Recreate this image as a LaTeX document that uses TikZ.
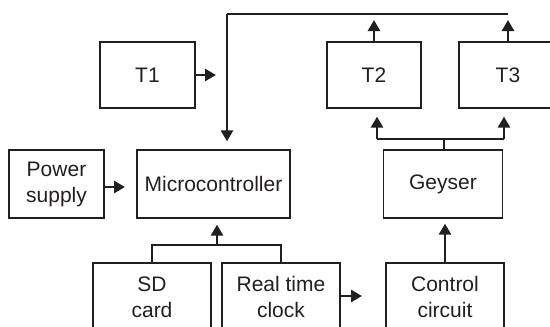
\documentclass[tikz,border=0pt]{standalone}
\usepackage{fontspec}
\setmainfont{Liberation Sans}
\usetikzlibrary{arrows.meta}
\definecolor{ink}{HTML}{231F20}
\begin{document}
\begin{tikzpicture}[x=1pt,y=-1pt,
  blk/.style={draw=ink,line width=1.3pt,rectangle,inner sep=0pt,align=center,
    font=\fontsize{21}{26}\selectfont,text=ink},
  conn/.style={draw=ink,line width=2.7pt},
  arr/.style={conn,-{Triangle[length=11pt,width=12pt]}}]
\useasboundingbox (0,0) rectangle (550,327);
\clip (0,0) rectangle (550,327);
\fill[white] (0,0) rectangle (550,327);
% blocks
\node[blk,minimum width=95pt,minimum height=66pt] (t1) at (147.5,75) {T1};
\node[blk,minimum width=94pt,minimum height=66pt] (t2) at (374,75) {T2};
\node[blk,minimum width=98pt,minimum height=66pt] (t3) at (508,75) {T3};
\node[blk,minimum width=95pt,minimum height=68pt] (ps) at (56.5,184) {Power\\supply};
\node[blk,minimum width=153pt,minimum height=68pt] (mc) at (213.5,184) {Microcontroller};
\node[blk,minimum width=119pt,minimum height=68pt] (gy) at (443,184) {Geyser};
\node[blk,minimum width=118pt,minimum height=68pt] (sd) at (152,297) {SD\\card};
\node[blk,minimum width=118pt,minimum height=68pt] (rtc) at (281,297) {Real time\\clock};
\node[blk,minimum width=118pt,minimum height=68pt] (cc) at (445,297) {Control\\circuit};
% coordinates
\coordinate (tl) at (227,14);
\coordinate (tr) at (508,14);
\coordinate (t1e) at (216,75);
\coordinate (pse) at (125,187);
\coordinate (rtce) at (362,296);
\coordinate (gj) at (444,139);
\coordinate (gl) at (377,139);
\coordinate (gr) at (504,139);
\coordinate (mj) at (217,245);
% connectors
\draw[arr] (t1.east) -- (t1e);
\draw[arr] (ps.east |- pse) -- (pse);
\draw[conn] (tr) -- (tl);
\draw[arr,shorten >=8pt] (tl) -- (tl |- mc.north);
\draw[arr,shorten >=6pt] (t2.north) -- (t2.north |- tl);
\draw[arr,shorten >=6pt] (t3.north) -- (tr);
\draw[conn] (gy.north -| gj) -- (gj);
\draw[conn] (gl) -- (gr);
\draw[arr,shorten >=8pt] (gl) -- (gl |- t2.south);
\draw[arr,shorten >=8pt] (gr) -- (gr |- t3.south);
\draw[conn] (sd.north) |- (mj) -| (rtc.north);
\draw[arr,shorten >=6pt] (mj) -- (mj |- mc.south);
\draw[arr] (rtc.east |- rtce) -- (rtce);
\draw[arr,shorten >=5pt] (cc.north) -- (cc.north |- gy.south);
\end{tikzpicture}
\end{document}
